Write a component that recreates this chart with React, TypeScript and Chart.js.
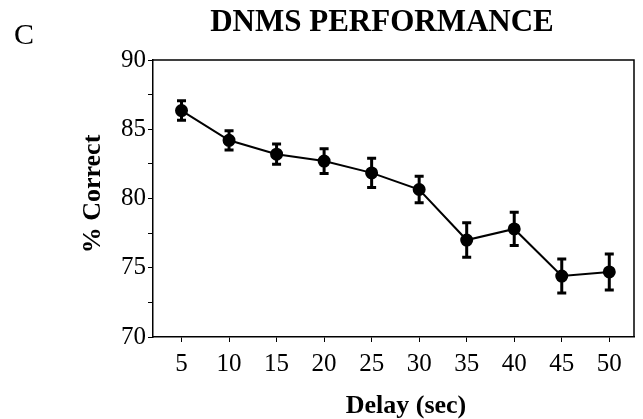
import React, { useEffect, useRef } from 'react';
import { Chart, registerables } from 'chart.js';

Chart.register(...registerables);

const delays = [5, 10, 15, 20, 25, 30, 35, 40, 45, 50];
const percentCorrect = [86.35, 84.2, 83.2, 82.7, 81.85, 80.65, 77.0, 77.8, 74.4, 74.7];
const sem = [0.7, 0.7, 0.73, 0.9, 1.05, 0.95, 1.25, 1.2, 1.23, 1.3];
const yMin = 70;
const yMax = 90;
const chartTitle = 'DNMS PERFORMANCE';
const panelLetter = 'C';
const xTitle = 'Delay (sec)';
const yTitle = '% Correct';

const SERIF = '"Liberation Serif", "Times New Roman", serif';

const decorPlugin = {
  id: 'decor',
  afterDatasetsDraw(chart: any) {
    const { ctx, chartArea, scales } = chart;
    const xs = scales.x;
    const ys = scales.y;
    ctx.save();
    // box
    ctx.strokeStyle = '#000';
    ctx.lineWidth = 1.5;
    ctx.beginPath();
    ctx.moveTo(chartArea.left, chartArea.top);
    ctx.lineTo(chartArea.right, chartArea.top);
    ctx.lineTo(chartArea.right, chartArea.bottom);
    ctx.stroke();
    // error bars
    ctx.lineWidth = 3;
    for (let i = 0; i < delays.length; i++) {
      const x = xs.getPixelForValue(delays[i]);
      const yt = ys.getPixelForValue(percentCorrect[i] + sem[i]);
      const yb = ys.getPixelForValue(percentCorrect[i] - sem[i]);
      ctx.beginPath();
      ctx.moveTo(x, yt);
      ctx.lineTo(x, yb);
      ctx.moveTo(x - 4.5, yt);
      ctx.lineTo(x + 4.5, yt);
      ctx.moveTo(x - 4.5, yb);
      ctx.lineTo(x + 4.5, yb);
      ctx.stroke();
    }
    // texts
    ctx.fillStyle = '#000';
    ctx.textBaseline = 'alphabetic';
    ctx.textAlign = 'left';
    ctx.font = `30px ${SERIF}`;
    ctx.fillText(panelLetter, 14, 44);
    ctx.textAlign = 'center';
    ctx.font = `bold 31px ${SERIF}`;
    ctx.fillText(chartTitle, 382, 31);
    ctx.font = `bold 26px ${SERIF}`;
    ctx.fillText(xTitle, 406, 413);
    ctx.save();
    ctx.translate(100, 194);
    ctx.rotate(-Math.PI / 2);
    ctx.fillText(yTitle, 0, 0);
    ctx.restore();
    ctx.restore();
  },
};

export default function App() {
  const ref = useRef<HTMLCanvasElement>(null);
  useEffect(() => {
    if (!ref.current) return;
    const chart = new Chart(ref.current, {
      type: 'line',
      data: {
        datasets: [
          {
            data: delays.map((d, i) => ({ x: d, y: percentCorrect[i] })),
            borderColor: '#000',
            backgroundColor: '#000',
            borderWidth: 2,
            pointRadius: 5.5,
            pointBackgroundColor: '#000',
            pointBorderColor: '#000',
            tension: 0,
          },
        ],
      },
      options: {
        responsive: false,
        animation: false,
        layout: { padding: { top: 60, right: 9, left: 0, bottom: 0 } },
        plugins: { legend: { display: false }, tooltip: { enabled: false }, title: { display: false } },
        scales: {
          x: {
            type: 'linear',
            min: 2,
            max: 52.6,
            afterBuildTicks: (s: any) => {
              s.ticks = delays.map((v) => ({ value: v }));
            },
            afterFit: (s: any) => {
              s.height = 82;
            },
            grid: { drawOnChartArea: false, tickLength: 5, color: '#000', lineWidth: 1 },
            border: { display: true, color: '#000', width: 1.5 },
            ticks: {
              color: '#000',
              font: { family: SERIF, size: 25 },
              padding: 7,
              maxRotation: 0,
              autoSkip: false,
              callback: (v: any) => String(v),
            },
          },
          y: {
            type: 'linear',
            min: yMin,
            max: yMax,
            afterFit: (s: any) => {
              s.width = 153;
            },
            grid: { drawOnChartArea: false, tickLength: 5, color: '#000', lineWidth: 1 },
            border: { display: true, color: '#000', width: 1.5 },
            ticks: {
              stepSize: 2.5,
              color: '#000',
              font: { family: SERIF, size: 25 },
              padding: 2,
              autoSkip: false,
              callback: (v: any) => (Number(v) % 5 === 0 ? String(v) : ''),
            },
          },
        },
      },
      plugins: [decorPlugin],
    });
    return () => chart.destroy();
  }, []);
  return (
    <div style={{ position: 'fixed', left: 0, top: 0, width: 643, height: 419, background: '#fff' }}>
      <canvas ref={ref} width={643} height={419} />
    </div>
  );
}
